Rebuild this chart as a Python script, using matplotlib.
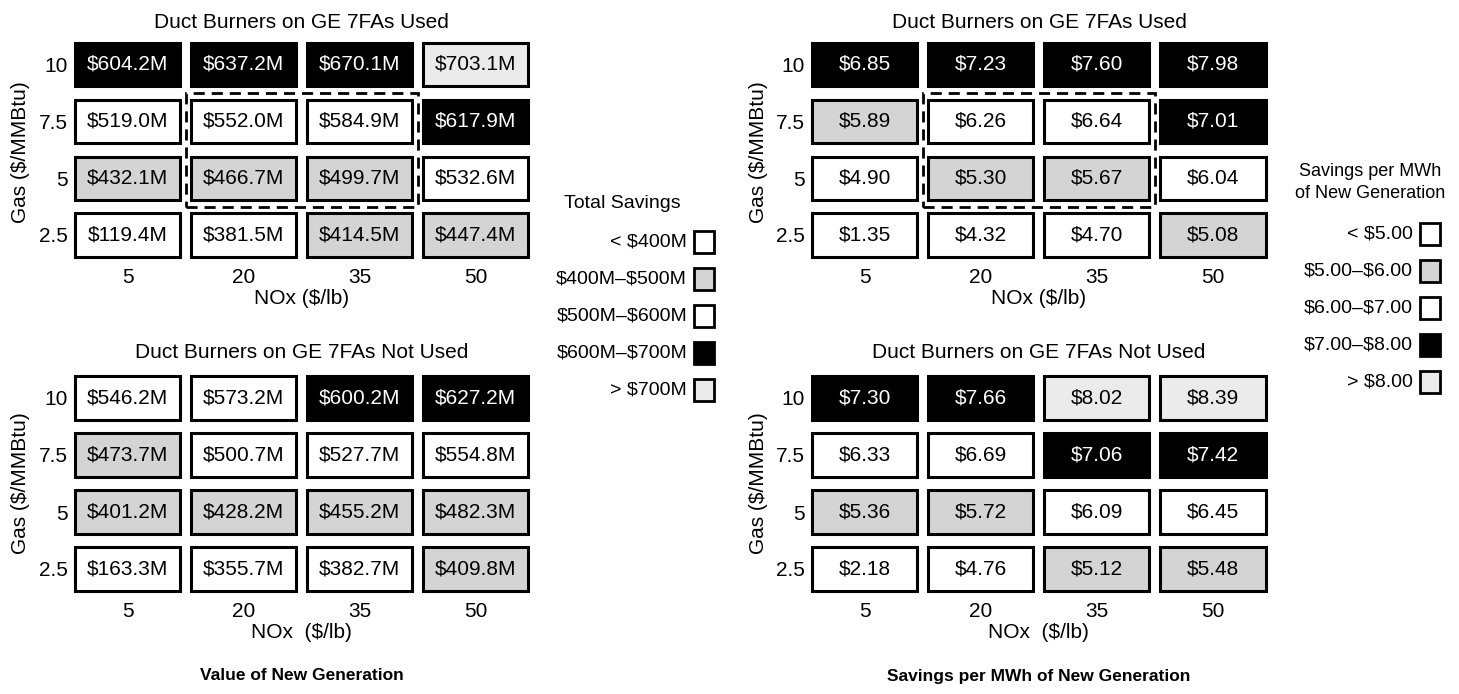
import numpy as np
import matplotlib.pyplot as plt
from matplotlib.patches import Rectangle

plt.rcParams['font.family'] = ['Liberation Sans', 'DejaVu Sans']

W, H = 1459, 694

# ── Data ──────────────────────────────────────────────────────────────────────
nox = [5, 20, 35, 50]            # $/lb
gas = [2.5, 5, 7.5, 10]          # $/MMBtu, bottom row first

# total savings ($M), rows follow `gas`
total_used = [
    [119.4, 381.5, 414.5, 447.4],
    [432.1, 466.7, 499.7, 532.6],
    [519.0, 552.0, 584.9, 617.9],
    [604.2, 637.2, 670.1, 703.1],
]
total_not_used = [
    [163.3, 355.7, 382.7, 409.8],
    [401.2, 428.2, 455.2, 482.3],
    [473.7, 500.7, 527.7, 554.8],
    [546.2, 573.2, 600.2, 627.2],
]

# savings per MWh of new generation ($)
mwh_used = [
    [1.35, 4.32, 4.70, 5.08],
    [4.90, 5.30, 5.67, 6.04],
    [5.89, 6.26, 6.64, 7.01],
    [6.85, 7.23, 7.60, 7.98],
]
mwh_not_used = [
    [2.18, 4.76, 5.12, 5.48],
    [5.36, 5.72, 6.09, 6.45],
    [6.33, 6.69, 7.06, 7.42],
    [7.30, 7.66, 8.02, 8.39],
]

# legend class of every cell as printed (0..4, same order as the legend)
total_used_cls = [
    [0, 0, 1, 1],
    [1, 1, 1, 2],
    [2, 2, 2, 3],
    [3, 3, 3, 4],
]
total_not_used_cls = [
    [0, 0, 0, 1],
    [1, 1, 1, 1],
    [1, 2, 2, 2],
    [2, 2, 3, 3],
]
mwh_used_cls = [
    [0, 0, 0, 1],
    [0, 1, 1, 2],
    [1, 2, 2, 3],
    [3, 3, 3, 3],
]
mwh_not_used_cls = [
    [0, 0, 1, 1],
    [1, 1, 2, 2],
    [2, 2, 3, 3],
    [3, 3, 4, 4],
]

total_labels = ['< $400M', '$400M–$500M', '$500M–$600M', '$600M–$700M', '> $700M']
mwh_labels = ['< $5.00', '$5.00–$6.00', '$6.00–$7.00', '$7.00–$8.00', '> $8.00']

# white / stipple / white / black / light stipple
SHADES = ['white', '#d4d4d4', 'white', 'black', '#ebebeb']

BW = 105 / 116
BH = 43 / 56.8
FS = 15

fig = plt.figure(figsize=(W / 100, H / 100), dpi=100)


def px_axes(xc0, xc3, yc_top, yc_bot):
    # place axes so that column/row centres land on given pixel positions
    dx = (xc3 - xc0) / 3
    dy = (yc_bot - yc_top) / 3
    x0 = xc0 - dx / 2
    top = yc_top - dy / 2
    ax = fig.add_axes([x0 / W, 1 - (top + 4 * dy) / H, 4 * dx / W, 4 * dy / H])
    ax.set_xlim(-0.5, 3.5)
    ax.set_ylim(-0.5, 3.5)
    for s in ax.spines.values():
        s.set_visible(False)
    return ax


def draw_grid(ax, vals, cls, fmt, xlabel, dashed=False):
    for i, row in enumerate(vals):
        for j, v in enumerate(row):
            face = SHADES[cls[i][j]]
            ax.add_patch(Rectangle((j - BW / 2, i - BH / 2), BW, BH,
                                   facecolor=face, edgecolor='black', lw=2.2))
            ax.text(j, i, fmt(v), ha='center', va='center', fontsize=FS,
                    color='white' if face == 'black' else 'black', parse_math=False)
    if dashed:
        ax.add_patch(Rectangle((0.5, 0.5), 2, 2, fill=False, edgecolor='black',
                               lw=2, linestyle=(0, (4, 2.5))))
    ax.set_xticks(range(len(nox)), [str(n) for n in nox])
    ax.set_yticks(range(len(gas)), [f'{g:g}' for g in gas])
    ax.tick_params(length=0, labelsize=FS)
    ax.tick_params(axis='x', pad=3)
    ax.tick_params(axis='y', pad=1)
    ax.set_xlabel(xlabel, fontsize=FS, labelpad=2)


def draw_legend(x_sq, y_items, labels):
    for lab, y, face in zip(labels, y_items, SHADES):
        fig.patches.append(Rectangle((x_sq / W, 1 - (y + 11) / H), 20 / W, 22 / H,
                                     facecolor=face, edgecolor='black', lw=2,
                                     transform=fig.transFigure, figure=fig))
        fig.text((x_sq - 7) / W, 1 - y / H, lab, ha='right', va='center',
                 fontsize=14, parse_math=False)


fmt_m = lambda v: f'${v:.1f}M'
fmt_d = lambda v: f'${v:.2f}'

# ── Left: total savings ───────────────────────────────────────────────────────
ax = px_axes(127.5, 475.5, 64.5, 235)
draw_grid(ax, total_used, total_used_cls, fmt_m, 'NOx ($/lb)', dashed=True)
ax = px_axes(127.5, 475.5, 398, 569)
draw_grid(ax, total_not_used, total_not_used_cls, fmt_m, 'NOx  ($/lb)')

# ── Right: per MWh ────────────────────────────────────────────────────────────
ax = px_axes(864.5, 1213, 64.5, 235)
draw_grid(ax, mwh_used, mwh_used_cls, fmt_d, 'NOx ($/lb)', dashed=True)
ax = px_axes(864.5, 1213, 398, 569)
draw_grid(ax, mwh_not_used, mwh_not_used_cls, fmt_d, 'NOx  ($/lb)')

# titles / axis labels
for xc in (301.5, 1039):
    fig.text(xc / W, 1 - 22 / H, 'Duct Burners on GE 7FAs Used',
             ha='center', va='center', fontsize=FS)
    fig.text(xc / W, 1 - 353 / H, 'Duct Burners on GE 7FAs Not Used',
             ha='center', va='center', fontsize=FS)
for xl in (21, 758):
    fig.text(xl / W, 1 - 152 / H, 'Gas ($/MMBtu)', rotation=90,
             ha='center', va='center', fontsize=FS, parse_math=False)
    fig.text(xl / W, 1 - 483 / H, 'Gas ($/MMBtu)', rotation=90,
             ha='center', va='center', fontsize=FS, parse_math=False)

fig.text(301.5 / W, 1 - 676 / H, 'Value of New Generation',
         ha='center', va='center', fontsize=12.5, fontweight='bold')
fig.text(1039 / W, 1 - 676 / H, 'Savings per MWh of New Generation',
         ha='center', va='center', fontsize=12.5, fontweight='bold')

# legends
fig.text(622 / W, 1 - 203 / H, 'Total Savings', ha='center', va='center', fontsize=14)
draw_legend(694, [242, 279, 316, 353, 390], total_labels)
fig.text(1370 / W, 1 - 172 / H, 'Savings per MWh', ha='center', va='center', fontsize=13)
fig.text(1370 / W, 1 - 194 / H, 'of New Generation', ha='center', va='center', fontsize=13)
draw_legend(1420, [234, 271, 308, 345, 382], mwh_labels)

fig.savefig('out.png', dpi=100, facecolor='white')
